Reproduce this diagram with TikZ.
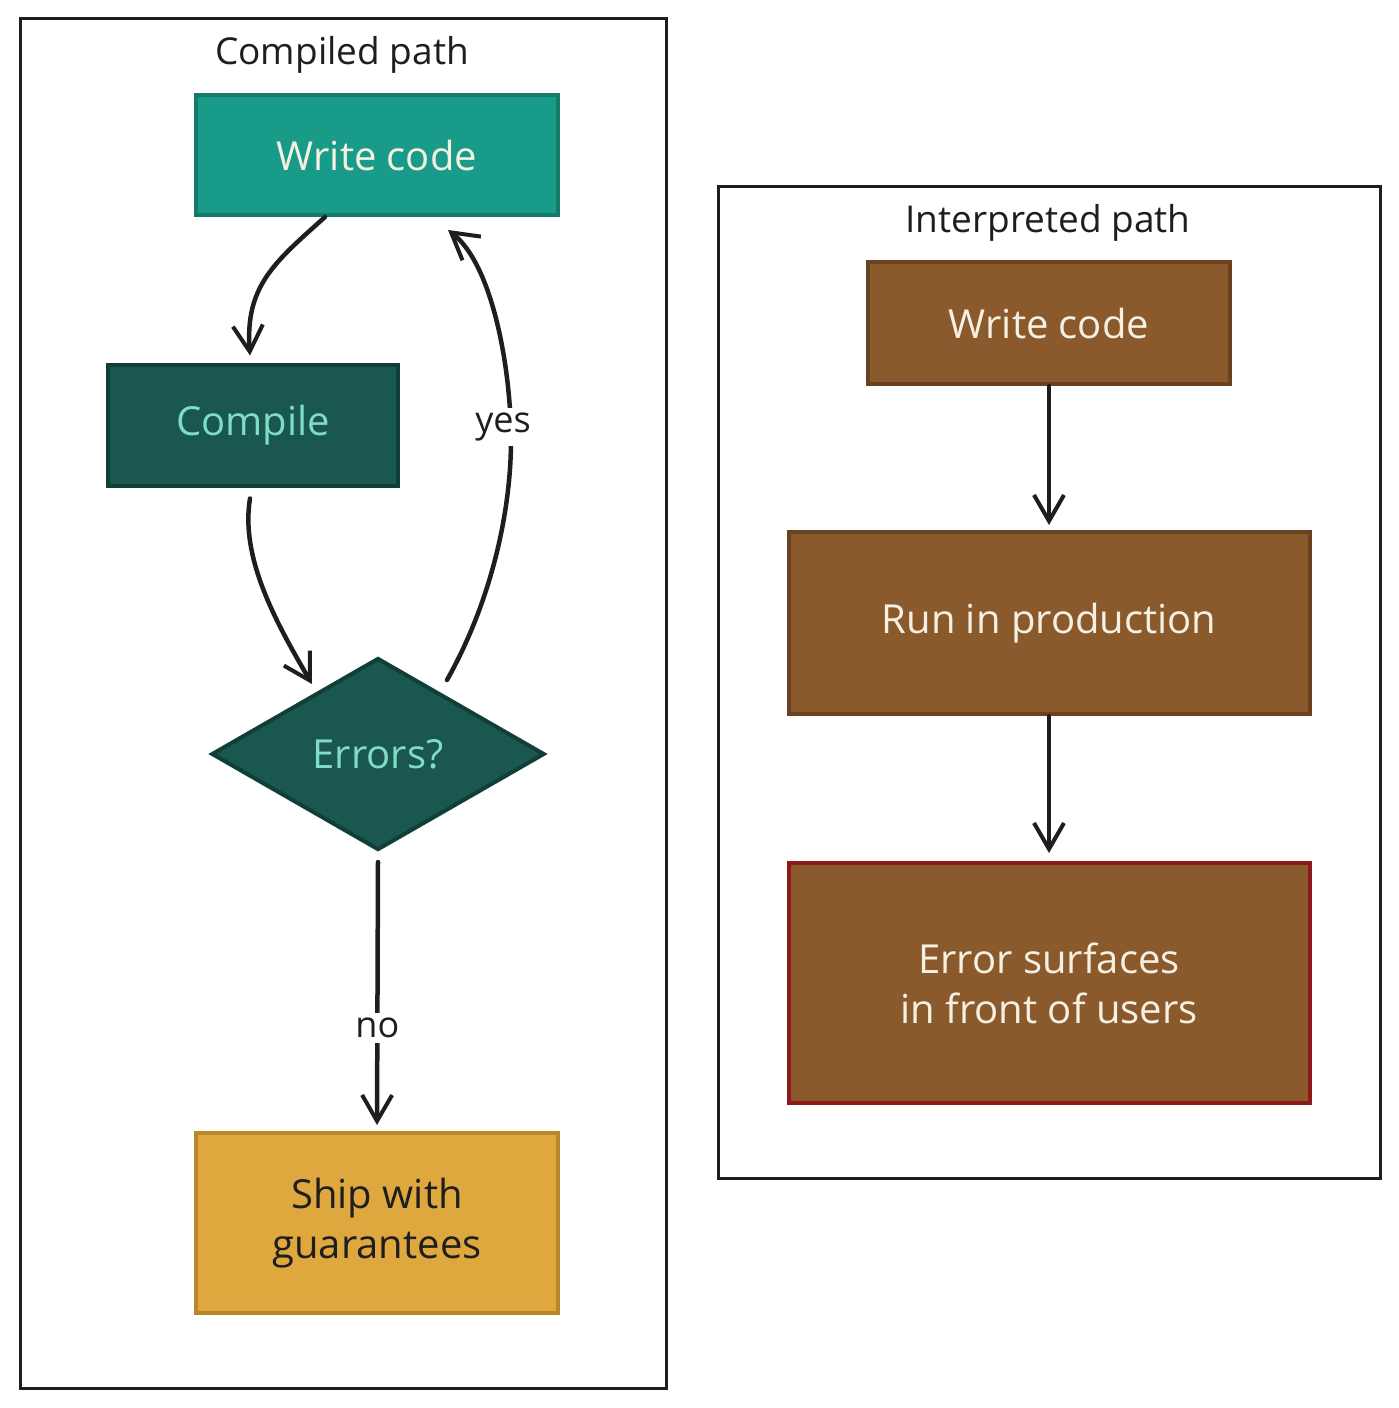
\documentclass[tikz,border=0pt]{standalone}
\usepackage{fontspec}
\setmainfont{Open Sans}
\usetikzlibrary{arrows.meta,shapes.geometric,calc}
\definecolor{tealA}{HTML}{199B8A}
\definecolor{tealAb}{HTML}{157A68}
\definecolor{tealD}{HTML}{1A574F}
\definecolor{tealDb}{HTML}{0F3F38}
\definecolor{mint}{HTML}{7FDCC6}
\definecolor{cream}{HTML}{F6F0E2}
\definecolor{brownF}{HTML}{8A5A2C}
\definecolor{brownB}{HTML}{6B4220}
\definecolor{redB}{HTML}{8C1A1A}
\definecolor{gold}{HTML}{DFA83E}
\definecolor{goldB}{HTML}{B8862B}
\definecolor{ink}{HTML}{1E1E1E}
\tikzset{
  container/.style={draw=ink, line width=3pt, fill=none},
  boxtext/.style={font=\fontsize{40}{50}\selectfont, align=center},
  procbox/.style={rectangle, line width=4pt, boxtext, inner sep=0pt},
  title/.style={font=\fontsize{37}{44}\selectfont, text=ink},
  conn/.style={draw=ink, line width=4.5pt, line cap=round, -{Straight Barb[length=26pt,width=30pt,line width=4pt]}},
  lbl/.style={fill=white, font=\fontsize{36}{42}\selectfont, text=ink, inner sep=5pt}
}
\begin{document}
\begin{tikzpicture}[x=1pt,y=-1pt]
\useasboundingbox (0,0) rectangle (1398,1408);
\fill[white] (0,0) rectangle (1398,1408);
% containers
\draw[container] (20,18) rectangle (666,1388);
\draw[container] (718,186) rectangle (1380,1178);
\node[title] (t1) at (342,55) {Compiled path};
\node[title] (t2) at (1048,223) {Interpreted path};
% left nodes
\node[procbox, fill=tealA, draw=tealAb, text=cream, minimum width=362pt, minimum height=120pt] (wc) at (377,155) {Write code};
\node[procbox, fill=tealD, draw=tealDb, text=mint, minimum width=290pt, minimum height=121pt] (cp) at (253,425) {Compile};
\node[diamond, aspect=1.73, fill=tealD, draw=tealDb, line width=4pt, text=mint, boxtext, inner sep=0pt, minimum width=333pt, minimum height=192pt] (er) at (378,754) {Errors?};
\node[procbox, fill=gold, draw=goldB, text=ink, minimum width=362pt, minimum height=180pt] (sh) at (377,1223) {Ship with\\guarantees};
% right nodes
\node[procbox, fill=brownF, draw=brownB, text=cream, minimum width=362pt, minimum height=122pt] (wc2) at (1049,323) {Write code};
\node[procbox, fill=brownF, draw=brownB, text=cream, minimum width=521pt, minimum height=182pt] (rp) at (1049,623) {Run in production};
\node[procbox, fill=brownF, draw=redB, text=cream, minimum width=521pt, minimum height=240pt] (es) at (1049,983) {Error surfaces\\in front of users};
% connectors left
\draw[conn] ([xshift=-52pt]wc.south) .. controls +(-50,45) and +(-5,-70) .. ([xshift=-3pt,yshift=7pt]cp.north);
\draw[conn] ([xshift=-3pt,yshift=-11pt]cp.south) .. controls +(-10,60) and +(-35,-60) .. ([xshift=-66pt,yshift=-28pt]er.north);
\draw[conn] ([xshift=69pt,yshift=74pt]er.center) .. controls +(45,-80) and +(0,70) .. (511,440)
   .. controls +(0,-70) and +(45,35) .. ([xshift=71pt,yshift=-13pt]wc.south);
\node[lbl] (yes) at (503,427) {yes};
\draw[conn] ([yshift=-10pt]er.south) -- ([yshift=6pt]sh.north) node[lbl, pos=0.63] (no) {no};
% connectors right
\draw[conn] (wc2.south) -- ([yshift=5pt]rp.north);
\draw[conn] (rp.south) -- ([yshift=8pt]es.north);
\end{tikzpicture}
\end{document}
